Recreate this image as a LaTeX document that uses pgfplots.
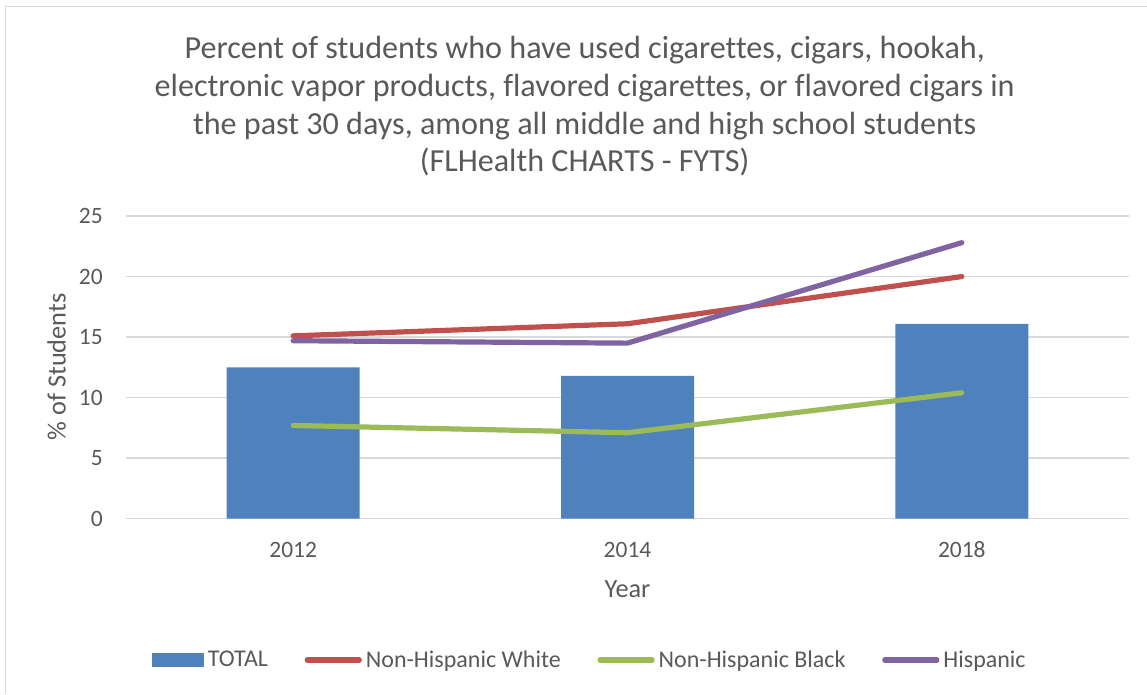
\documentclass[border=0pt]{standalone}
\usepackage{fontspec}
\setmainfont{Carlito}[Ligatures=NoCommon]
\usepackage{pgfplots}
\pgfplotsset{compat=1.18}
\definecolor{txt}{HTML}{595959}
\definecolor{gridc}{HTML}{D9D9D9}
\definecolor{cbar}{HTML}{4F81BD}
\definecolor{cred}{HTML}{C0504D}
\definecolor{cgreen}{HTML}{9BBB59}
\definecolor{cpurple}{HTML}{8064A2}
\begin{document}
\begin{tikzpicture}
% outer chart border (left and top visible)
\draw[gridc, line width=1.1pt] (4.1pt,-520.5pt) -- (4.1pt,-4.9pt) -- (860.25pt,-4.9pt);
% title
\begin{scope}[every node/.style={text=txt, font=\fontsize{24.1pt}{28pt}\selectfont, anchor=base, inner sep=0pt}]
\node at (438.5pt,-43.9pt) {Percent of students who have used cigarettes, cigars, hookah,};
\node at (438.5pt,-72.4pt) {electronic vapor products, flavored cigarettes, or flavored cigars in};
\node at (438.5pt,-100.5pt) {the past 30 days, among all middle and high school students};
\node at (438.5pt,-128.6pt) {(FLHealth CHARTS - FYTS)};
\end{scope}
\begin{axis}[
  at={(94.5pt,-389pt)}, anchor=south west,
  width=752.25pt, height=227pt, scale only axis,
  xmin=-0.5, xmax=2.5, ymin=0, ymax=25,
  xtick={0,1,2}, xticklabels={2012,2014,2018},
  ytick={0,5,10,15,20,25},
  axis line style={draw=none},
  major tick length=0pt,
  ymajorgrids, grid style={gridc, line width=1.2pt},
  /pgf/number format/assume math mode=true,
  tick label style={text=txt, font=\fontsize{17.6pt}{20pt}\selectfont, inner sep=0pt},
  yticklabel style={anchor=east, xshift=-17.25pt},
  xticklabel style={anchor=center, yshift=-23.25pt},
  clip=false,
  legend columns=4,
  legend style={at={(0.0259,-0.4668)}, anchor=west, draw=none, fill=none,
    inner sep=0pt, outer sep=0pt,
    nodes={inner sep=0pt, text=txt, font=\fontsize{18pt}{21pt}\selectfont},
    /tikz/every odd column/.append style={column sep=3pt},
    /tikz/every even column/.append style={column sep=27.5pt}},
]
\addplot[ybar, bar width=99.75pt, fill=cbar, draw=none,
  legend image code/.code={\fill[cbar] (0pt,-5.25pt) rectangle (39pt,5.25pt);}]
  coordinates {(0,12.5) (1,11.8) (2,16.1)};
\addlegendentry{TOTAL}
\addplot[cred, line width=3.9pt, line cap=round, line join=round,
  legend image code/.code={\draw[cred, line width=3.9pt, line cap=round] (1.9pt,0pt) -- (40.9pt,0pt);}]
  coordinates {(0,15.1) (1,16.1) (2,20.0)};
\addlegendentry{Non-Hispanic White}
\addplot[cgreen, line width=3.9pt, line cap=round, line join=round,
  legend image code/.code={\draw[cgreen, line width=3.9pt, line cap=round] (1.9pt,0pt) -- (40.9pt,0pt);}]
  coordinates {(0,7.7) (1,7.1) (2,10.4)};
\addlegendentry{Non-Hispanic Black}
\addplot[cpurple, line width=3.9pt, line cap=round, line join=round,
  legend image code/.code={\draw[cpurple, line width=3.9pt, line cap=round] (1.9pt,0pt) -- (40.9pt,0pt);}]
  coordinates {(0,14.7) (1,14.5) (2,22.8)};
\addlegendentry{Hispanic}
\end{axis}
% axis titles
\node[rotate=90, text=txt, font=\fontsize{19.7pt}{23pt}\selectfont, inner sep=0pt] at (42.5pt,-275.25pt) {\% of Students};
\node[text=txt, font=\fontsize{19.7pt}{23pt}\selectfont, inner sep=0pt] at (470.6pt,-441.75pt) {Year};
\pgfresetboundingbox
\path[use as bounding box] (0pt,0pt) rectangle (860.25pt,-520.5pt);
\end{tikzpicture}
\end{document}
